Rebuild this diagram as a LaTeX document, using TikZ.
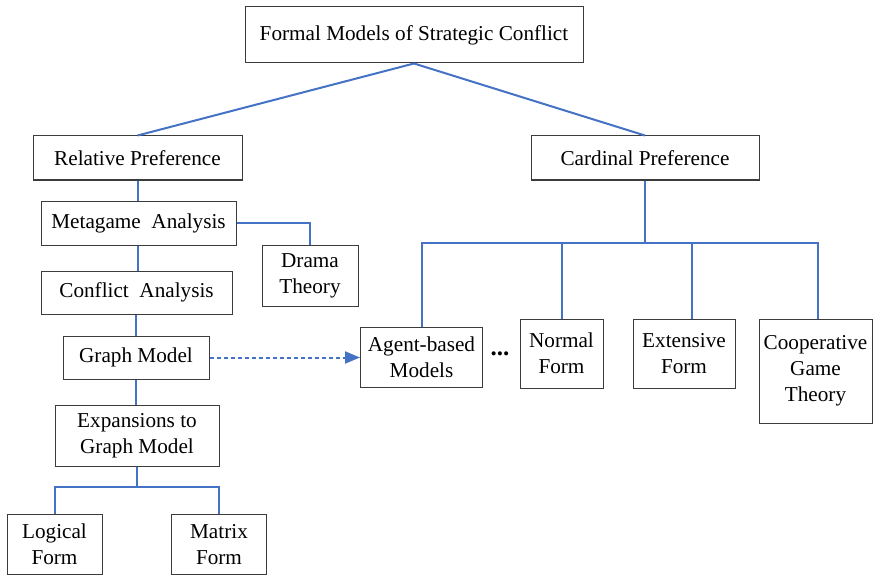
\documentclass[tikz,border=0pt]{standalone}
\usepackage{fontspec}
\setmainfont{Liberation Serif}
\usetikzlibrary{arrows.meta}
\definecolor{linkblue}{RGB}{68,114,196}
\definecolor{boxgray}{RGB}{60,60,60}
\begin{document}
\begin{tikzpicture}[x=1pt,y=-1pt,
  box/.style={draw=boxgray,line width=1pt,fill=white,inner sep=0pt,align=center,
    font=\fontsize{21.2}{26}\selectfont},
  conn/.style={draw=linkblue,line width=2pt},
  dashconn/.style={draw=linkblue,line width=2pt,dash pattern=on 4pt off 3pt,
    -{Triangle[length=15pt,width=12pt,fill=linkblue]}}]
\useasboundingbox (0,0) rectangle (873,575);
\node[box,minimum width=338pt,minimum height=56pt] (top) at (414,35) {Formal Models of Strategic Conflict};
\node[box,minimum width=209pt,minimum height=44pt] (rel) at (137.5,158) {Relative Preference};
\node[box,minimum width=228pt,minimum height=44pt] (card) at (645,158) {Cardinal Preference};
\node[box,minimum width=195pt,minimum height=44pt] (meta) at (138.5,223) {Metagame~ Analysis};
\node[box,minimum width=96pt,minimum height=61pt] (drama) at (310,275.5) {Drama\\Theory};
\node[box,minimum width=191pt,minimum height=43pt] (confl) at (136.5,292.5) {Conflict~ Analysis};
\node[box,minimum width=146pt,minimum height=43pt] (graph) at (136,357.5) {Graph Model};
\node[box,minimum width=164pt,minimum height=61pt] (exp) at (137,435.5) {Expansions to\\Graph Model};
\node[box,minimum width=95pt,minimum height=60pt] (logic) at (54.5,544.5) {Logical\\Form};
\node[box,minimum width=95pt,minimum height=60pt] (matrix) at (219,544.5) {Matrix\\Form};
\node[box,minimum width=122pt,minimum height=60pt] (agent) at (421.5,357.5) {Agent-based\\Models};
\node[box,minimum width=83pt,minimum height=69pt] (normal) at (561.5,353.5) {Normal\\Form};
\node[box,minimum width=102pt,minimum height=69pt] (ext) at (684,353.5) {Extensive\\Form};
\node[box,minimum width=113pt,minimum height=104pt] (coop) at (815.5,371) {Cooperative\\Game\\Theory};
\node[font=\bfseries\fontsize{25}{25}\selectfont,inner sep=0pt] (dots) at (500,354) {...};
\coordinate (eb) at (137,487);
\coordinate (cb) at (645,243);
\draw[conn] (top.south) -- (rel.north);
\draw[conn] (top.south) -- (card.north);
\draw[conn] (rel.south) -- (rel.south |- meta.north);
\draw[conn] (meta.east) -| (drama.north);
\draw[conn] (rel.south |- meta.south) -- (rel.south |- confl.north);
\draw[conn] (confl.south -| graph.south) -- (graph.north);
\draw[conn] (graph.south) -- (graph.south |- exp.north);
\draw[conn] (exp.south) -- (eb);
\draw[conn] (logic.north) |- (eb) -| (matrix.north);
\draw[dashconn] (graph.east) -- (agent.west);
\draw[conn] (card.south) -- (cb);
\draw[conn] (agent.north) |- (cb) -| ([xshift=2pt]coop.north);
\draw[conn] (normal.north) -- (normal.north |- cb);
\draw[conn] ([xshift=8pt]ext.north) -- ([xshift=8pt]ext.north |- cb);
\end{tikzpicture}
\end{document}
